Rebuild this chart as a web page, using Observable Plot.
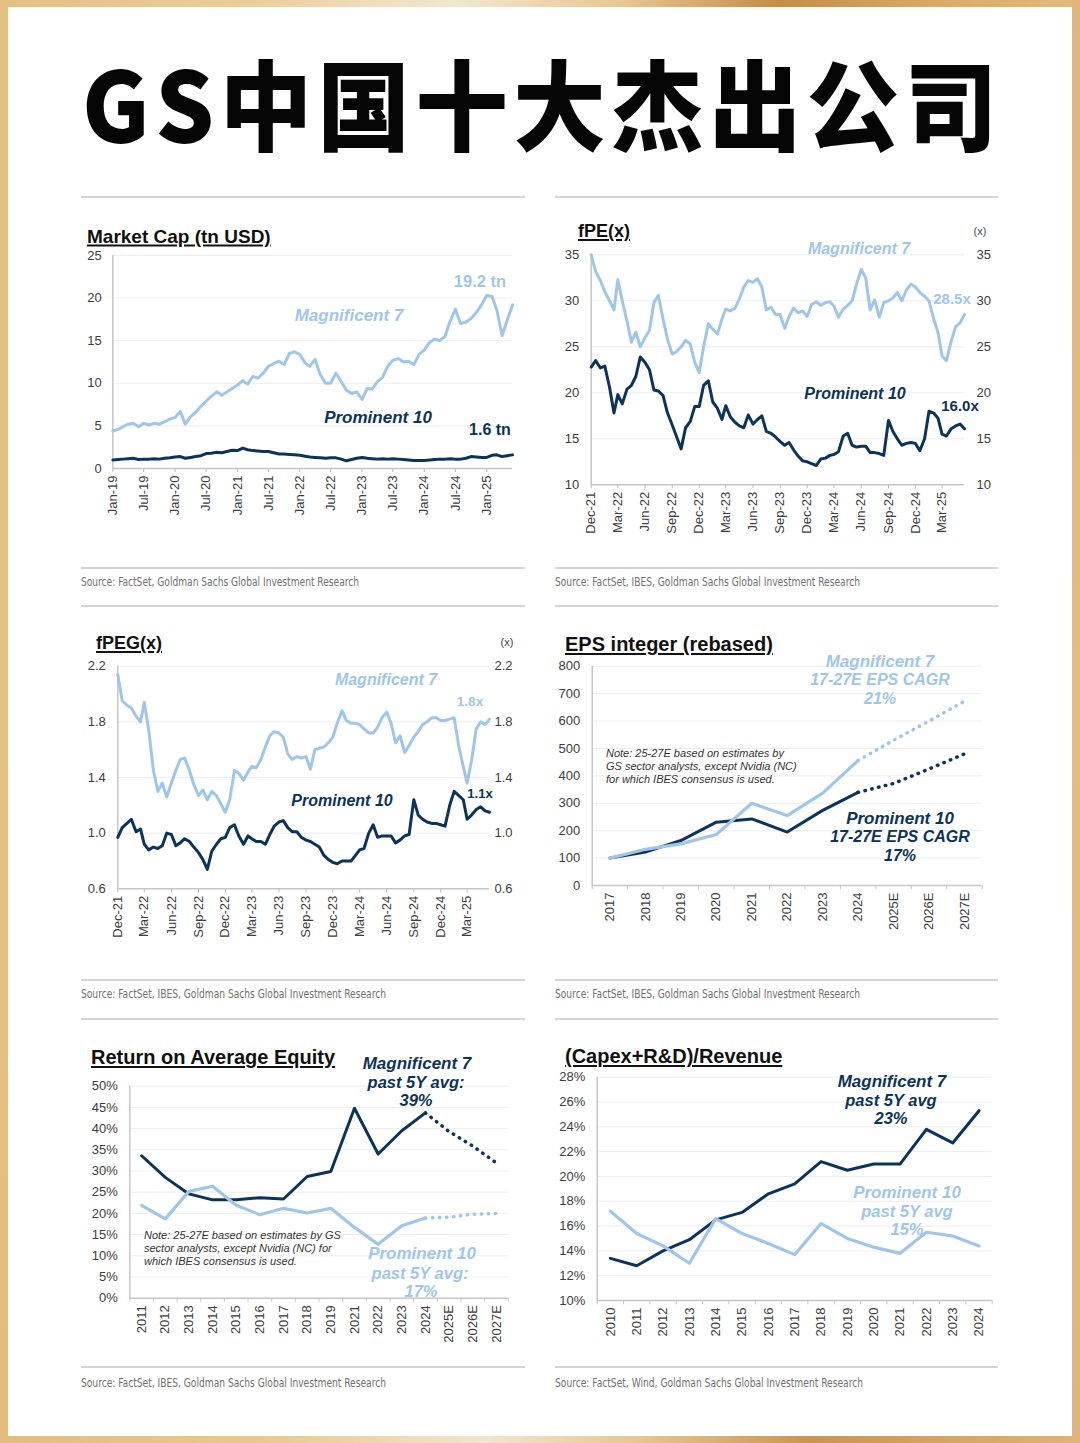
<!DOCTYPE html>
<html lang="zh">
<head>
<meta charset="utf-8">
<title>GS中国十大杰出公司</title>
<script src="https://cdn.jsdelivr.net/npm/d3@7"></script>
<script src="https://cdn.jsdelivr.net/npm/@observablehq/plot@0.6"></script>
<style>
html,body{margin:0;padding:0;background:#fff;}
#page{position:relative;width:1080px;height:1443px;overflow:hidden;background:#fff;font-family:"Liberation Sans",Arial,Helvetica,sans-serif;}
.bd{position:absolute;}
.t{position:absolute;white-space:nowrap;line-height:1;}
.c{transform:translate(-50%,-50%);}
.l{transform:translateY(-50%);}
.ttl{font-weight:bold;color:#111;text-decoration:underline;text-decoration-thickness:2px;text-underline-offset:2px;}
.note{font-style:italic;font-size:11px;color:#333;}
.src{font-family:"Liberation Sans Narrow","Arial Narrow","DejaVu Sans Condensed",sans-serif;font-size:12px;color:#6f6f6f;transform-origin:0 50%;}
.sep{position:absolute;height:2px;background:#d5d5d5;}
.plotbox{position:absolute;}
.plotbox svg{overflow:visible;}
.plotbox [aria-label$="tick"] path{stroke:#b8b8b8;}
.plotbox .tick line{stroke:#b8b8b8;}
#title{position:absolute;left:82px;top:52px;font-family:"Noto Sans CJK SC","Noto Sans CJK JP",sans-serif;font-weight:900;font-size:100px;line-height:1;letter-spacing:6px;color:#050505;white-space:nowrap;transform-origin:0 0;}
</style>
</head>
<body>
<div id="page">
  <div class="bd" style="left:0;top:0;width:1080px;height:7px;background:linear-gradient(90deg,#e3bf82 0%,#eacd96 22%,#f3e7d2 42%,#e7c68f 58%,#c48c47 72%,#d9a964 86%,#e4bb7c 100%);"></div>
  <div class="bd" style="left:0;bottom:0;width:1080px;height:7px;background:linear-gradient(90deg,#e3bd7e 0%,#e9c98f 25%,#f2e5cf 45%,#e6c48c 60%,#c99550 75%,#e0b475 100%);"></div>
  <div class="bd" style="left:0;top:0;width:8px;height:1443px;background:linear-gradient(180deg,#e4bf82,#e6c184 50%,#e4bc7d);"></div>
  <div class="bd" style="right:0;top:0;width:8px;height:1443px;background:linear-gradient(180deg,#e2b676,#e5bd80 50%,#e1b577);"></div>
  <div id="title">GS中国十大杰出公司</div>
</div>
<script>
// ---------------- DATA ----------------
// Panel 1: Market Cap (tn USD), monthly Jan-19 .. Jun-25
const mcStart = new Date(Date.UTC(2019, 0, 1));
const mcDates = d3.utcMonth.range(mcStart, new Date(Date.UTC(2025, 6, 1)));
const mcMag7 = [
  4.4,4.6,4.9,5.2,5.3,4.9,5.3,5.1,5.3,5.2,5.5,5.8,
  6.0,6.7,5.2,6.1,6.6,7.3,7.9,8.5,9.0,8.6,9.0,9.4,
  9.8,10.3,9.9,10.8,10.6,11.2,12.0,12.3,12.6,12.2,13.5,13.7,
  13.4,12.4,12.0,12.8,11.0,10.0,10.0,11.2,10.2,9.2,8.8,9.0,
  8.1,9.4,9.3,10.2,10.7,12.0,12.7,12.9,12.5,12.6,12.2,13.4,
  13.9,14.8,15.2,15.0,15.5,17.3,18.7,17.0,17.2,17.6,18.3,19.2,
  20.3,20.2,18.6,15.6,17.4,19.2];
const mcProm10 = [
  1.0,1.05,1.1,1.15,1.2,1.05,1.1,1.1,1.15,1.1,1.2,1.25,
  1.35,1.4,1.2,1.3,1.4,1.5,1.75,1.8,1.9,1.85,2.0,2.15,
  2.1,2.4,2.2,2.1,2.05,2.0,2.0,1.85,1.7,1.7,1.65,1.6,
  1.55,1.45,1.35,1.3,1.25,1.2,1.25,1.25,1.1,0.9,1.05,1.2,
  1.3,1.2,1.15,1.1,1.15,1.1,1.15,1.1,1.05,1.0,0.95,0.95,
  0.95,1.0,1.05,1.1,1.1,1.15,1.1,1.1,1.2,1.4,1.35,1.3,
  1.3,1.55,1.6,1.4,1.5,1.6];
const mcXTicks = d3.utcMonth.every(6).range(mcStart, new Date(Date.UTC(2025, 1, 1)));
const mcYTicks = [0, 5, 10, 15, 20, 25];

// Panels 2-3: fPE / fPEG, half-monthly Dec-21 .. mid May-25
const vDates = d3.utcMonth.range(new Date(Date.UTC(2021, 11, 1)), new Date(Date.UTC(2025, 5, 1)))
  .flatMap(d => [d, d3.utcDay.offset(d, 15)]);
const vXTicks = d3.utcMonth.range(new Date(Date.UTC(2021, 11, 1)), new Date(Date.UTC(2025, 3, 1)), 3);
const fpeMag7 = [
  35.0,33.2,32.2,31.0,30.0,29.0,32.3,30.0,27.8,25.5,
  26.6,25.0,26.0,26.8,29.8,30.6,28.0,25.8,24.2,24.5,
  25.0,25.7,25.3,23.3,22.2,25.0,27.5,26.9,26.4,28.0,
  29.1,28.9,29.2,30.2,31.5,32.2,32.0,32.4,31.5,29.0,
  29.3,28.5,28.5,27.0,28.3,29.2,28.7,28.9,28.3,29.6,
  29.9,29.5,29.8,29.9,29.4,28.2,29.1,29.5,30.0,31.8,
  33.4,32.5,29.0,30.1,28.2,29.8,30.0,30.3,30.9,30.0,
  31.2,31.8,31.5,30.9,30.5,30.0,28.0,26.5,24.0,23.5,
  25.6,27.2,27.6,28.5];
const fpeProm10 = [
  22.8,23.5,22.7,22.9,20.6,17.8,19.8,18.8,20.4,20.8,
  21.8,23.9,23.3,22.5,20.3,20.2,19.7,17.8,16.5,15.2,
  13.9,16.2,16.9,18.5,18.5,20.8,21.3,19.0,18.3,17.1,
  18.6,17.4,16.8,16.4,16.2,17.6,16.6,17.1,17.5,15.8,
  15.6,15.2,14.7,14.3,14.6,13.8,13.1,12.6,12.5,12.3,
  12.1,12.8,12.9,13.2,13.3,13.6,15.3,15.6,14.3,14.1,
  14.2,14.2,13.5,13.5,13.4,13.2,17.0,15.8,15.0,14.3,
  14.5,14.6,14.5,13.7,15.0,18.0,17.8,17.2,15.5,15.3,
  16.1,16.4,16.6,16.1];
const fpeYTicks = [10, 15, 20, 25, 30, 35];
const fpegMag7 = [
  2.14,1.95,1.92,1.90,1.84,1.80,1.94,1.74,1.45,1.30,
  1.36,1.26,1.36,1.45,1.53,1.54,1.45,1.35,1.27,1.31,
  1.24,1.30,1.27,1.21,1.15,1.24,1.45,1.43,1.38,1.44,
  1.48,1.47,1.53,1.62,1.70,1.73,1.72,1.69,1.57,1.53,
  1.55,1.54,1.55,1.46,1.60,1.61,1.62,1.65,1.69,1.79,
  1.88,1.81,1.79,1.79,1.78,1.75,1.72,1.72,1.76,1.83,
  1.87,1.79,1.65,1.70,1.58,1.63,1.69,1.73,1.78,1.80,
  1.83,1.83,1.81,1.81,1.82,1.83,1.62,1.48,1.36,1.52,
  1.75,1.80,1.78,1.82];
const fpegProm10 = [
  0.97,1.04,1.07,1.10,1.01,1.03,0.92,0.88,0.90,0.89,
  0.91,1.00,0.99,0.91,0.93,0.96,0.94,0.90,0.86,0.81,
  0.74,0.87,0.92,0.96,0.97,1.04,1.06,0.98,0.92,0.98,
  0.96,0.94,0.94,0.92,0.99,1.05,1.08,1.09,1.04,1.01,
  1.01,0.97,0.95,0.94,0.92,0.90,0.84,0.81,0.79,0.78,
  0.80,0.80,0.80,0.84,0.88,0.89,1.00,1.06,0.97,0.98,
  0.98,0.98,0.93,0.95,0.98,0.99,1.24,1.13,1.10,1.08,
  1.07,1.07,1.06,1.05,1.20,1.30,1.27,1.24,1.10,1.13,
  1.17,1.19,1.16,1.15];
const fpegYTicks = [0.6, 1.0, 1.4, 1.8, 2.2];

// Panel 4: EPS integer (rebased)
const epsYears = ["2017","2018","2019","2020","2021","2022","2023","2024","2025E","2026E","2027E"];
const epsMag7   = [100, 132, 152, 186, 300, 255, 337, 456, 530, 600, 672];
const epsProm10 = [100, 122, 164, 231, 243, 195, 274, 340, 372, 425, 480];
const epsYTicks = [0,100,200,300,400,500,600,700,800];
const epsLastActual = 7;

// Panel 5: Return on Average Equity (%)
const roaeYears = ["2011","2012","2013","2014","2015","2016","2017","2018","2019","2021","2022","2023","2024","2025E","2026E","2027E"];
const roaeMag7   = [33.6,28.5,24.6,23.2,23.2,23.7,23.4,28.7,29.9,44.8,34.0,39.5,43.7,39.3,35.9,31.9];
const roaeProm10 = [21.9,18.7,25.2,26.4,21.9,19.7,21.2,20.1,21.2,16.7,12.7,17.1,18.9,19.1,19.8,20.0];
const roaeYTicks = [0,5,10,15,20,25,30,35,40,45,50];
const roaeLastActual = 12;

// Panel 6: (Capex+R&D)/Revenue (%)
const capexYears = ["2010","2011","2012","2013","2014","2015","2016","2017","2018","2019","2020","2021","2022","2023","2024"];
const capexMag7   = [13.4,12.8,14.0,14.9,16.5,17.1,18.6,19.4,21.2,20.5,21.0,21.0,23.8,22.7,25.3];
const capexProm10 = [17.2,15.4,14.4,13.0,16.6,15.4,14.6,13.7,16.2,15.0,14.3,13.8,15.5,15.2,14.4];
const capexYTicks = [10,12,14,16,18,20,22,24,26,28];

// ---------------- STYLE ----------------
const LIGHT = "#9fc6e9", DARK = "#0c3358";
const AXIS = "#c6c6c6", GRID = "#ededed";
const baseStyle = {fontFamily: '"Liberation Sans", Arial, sans-serif', fontSize: "13px", color: "#3c3c3c", background: "transparent", overflow: "visible"};
const fmtMon = d3.utcFormat("%b-%y");
const page = document.getElementById("page");

function place(svg, left, top) {
  const d = document.createElement("div");
  d.className = "plotbox";
  d.style.left = left + "px"; d.style.top = top + "px";
  d.append(svg); page.append(d);
}
function txt(s, x, y, cls, style) {
  const e = document.createElement("div");
  e.className = "t " + cls;
  e.textContent = s;
  e.style.left = x + "px"; e.style.top = y + "px";
  Object.assign(e.style, style || {});
  page.append(e);
  return e;
}
const dotted = {strokeWidth: 3.5, strokeDasharray: "0.5,6.5", strokeLinecap: "round"};

// ---------------- PANEL 1 ----------------
const mcRows = mcDates.map((date, i) => ({date, mag7: mcMag7[i], prom10: mcProm10[i]}));
place(Plot.plot({
  width: 450, height: 290, marginLeft: 32.3, marginRight: 18, marginTop: 10, marginBottom: 67,
  style: baseStyle,
  x: {type: "utc", domain: [mcDates[0], mcDates[mcDates.length - 1]], ticks: mcXTicks, tickFormat: fmtMon, tickRotate: -90, tickSize: 4, tickPadding: 3, label: null},
  y: {domain: [0, 25], ticks: mcYTicks, tickSize: 0, tickPadding: 11, label: null},
  marks: [
    Plot.ruleY(mcYTicks.filter(v => v > 0), {stroke: GRID}),
    Plot.ruleY([0], {stroke: AXIS, strokeWidth: 1.5}),
    Plot.ruleX([mcDates[0]], {stroke: AXIS, strokeWidth: 1.5}),
    Plot.line(mcRows, {x: "date", y: "mag7", stroke: LIGHT, strokeWidth: 3, strokeLinejoin: "round"}),
    Plot.line(mcRows, {x: "date", y: "prom10", stroke: DARK, strokeWidth: 3, strokeLinejoin: "round"})
  ]
}), 80, 245);

// ---------------- PANEL 2 ----------------
const fpeRows = vDates.map((date, i) => ({date, mag7: fpeMag7[i], prom10: fpeProm10[i]}));
const vEnd = vDates[vDates.length - 1];
place(Plot.plot({
  width: 450, height: 305, marginLeft: 35.7, marginRight: 41, marginTop: 14.3, marginBottom: 60.7,
  style: baseStyle,
  x: {type: "utc", domain: [vDates[0], vEnd], ticks: vXTicks, tickFormat: fmtMon, tickRotate: -90, tickSize: 4, tickPadding: 3, label: null},
  y: {domain: [10, 35], ticks: fpeYTicks, tickSize: 0, tickPadding: 12, label: null},
  marks: [
    Plot.ruleY(fpeYTicks.filter(v => v > 10), {stroke: GRID}),
    Plot.ruleY([10], {stroke: AXIS, strokeWidth: 1.5}),
    Plot.ruleX([vDates[0]], {stroke: AXIS, strokeWidth: 1.5}),
    Plot.text(fpeYTicks, {x: () => vEnd, y: d => d, text: d => String(d), dx: 12, textAnchor: "start", fill: "#3c3c3c", fontSize: 13}),
    Plot.line(fpeRows, {x: "date", y: "mag7", stroke: LIGHT, strokeWidth: 3, strokeLinejoin: "round"}),
    Plot.line(fpeRows, {x: "date", y: "prom10", stroke: DARK, strokeWidth: 3, strokeLinejoin: "round"})
  ]
}), 555, 240);

// ---------------- PANEL 3 ----------------
const fpegRows = vDates.map((date, i) => ({date, mag7: fpegMag7[i], prom10: fpegProm10[i]}));
const f1 = d3.format(".1f");
place(Plot.plot({
  width: 450, height: 300, marginLeft: 37.3, marginRight: 41, marginTop: 15.7, marginBottom: 61.7,
  style: baseStyle,
  x: {type: "utc", domain: [vDates[0], vEnd], ticks: vXTicks, tickFormat: fmtMon, tickRotate: -90, tickSize: 4, tickPadding: 3, label: null},
  y: {domain: [0.6, 2.2], ticks: fpegYTicks, tickFormat: f1, tickSize: 0, tickPadding: 12, label: null},
  marks: [
    Plot.ruleY(fpegYTicks.filter(v => v > 0.6), {stroke: GRID}),
    Plot.ruleY([0.6], {stroke: AXIS, strokeWidth: 1.5}),
    Plot.ruleX([vDates[0]], {stroke: AXIS, strokeWidth: 1.5}),
    Plot.text(fpegYTicks, {x: () => vEnd, y: d => d, text: d => f1(d), dx: 5, textAnchor: "start", fill: "#3c3c3c", fontSize: 13}),
    Plot.line(fpegRows, {x: "date", y: "mag7", stroke: LIGHT, strokeWidth: 3, strokeLinejoin: "round"}),
    Plot.line(fpegRows, {x: "date", y: "prom10", stroke: DARK, strokeWidth: 3, strokeLinejoin: "round"})
  ]
}), 80, 650);

// ---------------- category panels helper ----------------
function catPanel({cats, a, b, aColor, bColor, lastActual, yDomain, yTicks, yFmt, w, h, ml, mr, mt, mb, tickDrop, left, top}) {
  const step = (w - ml - mr) / cats.length;
  const rows = cats.map((c, i) => ({c, a: a[i], b: b[i], i}));
  const act = rows.filter(r => lastActual == null || r.i <= lastActual);
  const est = rows.filter(r => lastActual != null && r.i >= lastActual);
  const y0 = yDomain[0];
  const marks = [
    Plot.ruleY(yTicks.filter(v => v > y0), {stroke: GRID}),
    Plot.ruleY([y0], {stroke: AXIS, strokeWidth: 1.5}),
    Plot.ruleX([cats[0]], {x: d => d, y1: y0, y2: yDomain[1], dx: -step / 2, stroke: AXIS, strokeWidth: 1.5}),
    Plot.ruleX(cats, {x: d => d, y1: y0, y2: y0 - tickDrop, dx: -step / 2, stroke: AXIS}),
    Plot.ruleX([cats[cats.length - 1]], {x: d => d, y1: y0, y2: y0 - tickDrop, dx: step / 2, stroke: AXIS}),
    Plot.line(act, {x: "c", y: "b", stroke: bColor, strokeWidth: 3, strokeLinejoin: "round"}),
    Plot.line(act, {x: "c", y: "a", stroke: aColor, strokeWidth: 3.2, strokeLinejoin: "round"})
  ];
  if (est.length) {
    marks.push(Plot.line(est, {x: "c", y: "b", stroke: bColor, ...dotted}));
    marks.push(Plot.line(est, {x: "c", y: "a", stroke: aColor, ...dotted}));
  }
  place(Plot.plot({
    width: w, height: h, marginLeft: ml, marginRight: mr, marginTop: mt, marginBottom: mb,
    style: baseStyle,
    x: {type: "point", domain: cats, padding: 0.5, round: false, tickSize: 0, tickPadding: 7, tickRotate: -90, label: null},
    y: {domain: yDomain, ticks: yTicks, tickFormat: yFmt, tickSize: 0, tickPadding: 12, label: null},
    marks
  }), left, top);
}

// ---------------- PANEL 4 ----------------
catPanel({cats: epsYears, a: epsMag7, b: epsProm10, aColor: LIGHT, bColor: DARK, lastActual: epsLastActual,
  yDomain: [0, 800], yTicks: epsYTicks, yFmt: d => String(d),
  w: 450, h: 300, ml: 36.7, mr: 23.3, mt: 10.7, mb: 70, tickDrop: 16, left: 555, top: 655});

// ---------------- PANEL 5 ----------------
catPanel({cats: roaeYears, a: roaeProm10, b: roaeMag7, aColor: LIGHT, bColor: DARK, lastActual: roaeLastActual,
  yDomain: [0, 50], yTicks: roaeYTicks, yFmt: d => d + "%",
  w: 450, h: 300, ml: 49.3, mr: 22.3, mt: 15.7, mb: 72.3, tickDrop: 1, left: 80, top: 1070});

// ---------------- PANEL 6 ----------------
catPanel({cats: capexYears, a: capexProm10, b: capexMag7, aColor: LIGHT, bColor: DARK, lastActual: null,
  yDomain: [10, 28], yTicks: capexYTicks, yFmt: d => d + "%",
  w: 450, h: 300, ml: 41.7, mr: 13.3, mt: 10.7, mb: 66, tickDrop: 0.35, left: 555, top: 1066});

// ---------------- separators & sources ----------------
[197, 568, 606, 980, 1019, 1367].forEach(y => {
  [[81, 444], [555, 443]].forEach(([x, w]) => {
    const s = document.createElement("div");
    s.className = "sep"; s.style.left = x + "px"; s.style.top = (y - 1) + "px"; s.style.width = w + "px";
    page.append(s);
  });
});
const sources = [
  ["Source: FactSet, Goldman Sachs Global Investment Research", 81, 582, 278],
  ["Source: FactSet, IBES, Goldman Sachs Global Investment Research", 555, 582, 305],
  ["Source: FactSet, IBES, Goldman Sachs Global Investment Research", 81, 994, 305],
  ["Source: FactSet, IBES, Goldman Sachs Global Investment Research", 555, 994, 305],
  ["Source: FactSet, IBES, Goldman Sachs Global Investment Research", 81, 1383, 305],
  ["Source: FactSet, Wind, Goldman Sachs Global Investment Research", 555, 1383, 308]
];
const srcEls = sources.map(([s, x, y, w]) => [txt(s, x, y, "src l"), w]);

// ---------------- titles ----------------
txt("Market Cap (tn USD)", 87, 236, "ttl l", {fontSize: "19px"});
txt("fPE(x)", 578, 231, "ttl l", {fontSize: "18px"});
txt("fPEG(x)", 96, 643, "ttl l", {fontSize: "18px"});
txt("EPS integer (rebased)", 565, 644, "ttl l", {fontSize: "20px"});
txt("Return on Average Equity", 91, 1057, "ttl l", {fontSize: "20px"});
txt("(Capex+R&D)/Revenue", 565, 1056, "ttl l", {fontSize: "20px"});
txt("(x)", 980, 231, "c", {fontSize: "11px", color: "#444"});
txt("(x)", 507, 642, "c", {fontSize: "11px", color: "#444"});

// ---------------- annotations ----------------
const ann = [
  ["19.2 tn", 480, 281, 16.5, LIGHT, false],
  ["Magnificent 7", 349, 315, 17, LIGHT, true],
  ["Prominent 10", 378, 417, 17, DARK, true],
  ["1.6 tn", 490, 430, 16, DARK, false],
  ["Magnificent 7", 859, 249, 16, LIGHT, true],
  ["28.5x", 952, 298, 15, LIGHT, false],
  ["Prominent 10", 855, 394, 16, DARK, true],
  ["16.0x", 960, 405, 15, DARK, false],
  ["Magnificent 7", 386, 680, 16, LIGHT, true],
  ["1.8x", 470, 702, 13.5, LIGHT, false],
  ["Prominent 10", 342, 801, 16, DARK, true],
  ["1.1x", 480, 793, 13, DARK, false],
  ["Magnificent 7", 880, 661, 17, LIGHT, true],
  ["17-27E EPS CAGR", 880, 680, 16, LIGHT, true],
  ["21%", 880, 699, 16, LIGHT, true],
  ["Prominent 10", 900, 818, 17, DARK, true],
  ["17-27E EPS CAGR", 900, 837, 16, DARK, true],
  ["17%", 900, 856, 16, DARK, true],
  ["Magnificent 7", 417, 1063, 17, DARK, true],
  ["past 5Y avg:", 416, 1082, 16.5, DARK, true],
  ["39%", 416, 1100, 16.5, DARK, true],
  ["Prominent 10", 422, 1253, 17, LIGHT, true],
  ["past 5Y avg:", 420, 1273, 16.5, LIGHT, true],
  ["17%", 421, 1291, 16.5, LIGHT, true],
  ["Magnificent 7", 892, 1081, 17, DARK, true],
  ["past 5Y avg", 891, 1100, 16.5, DARK, true],
  ["23%", 891, 1118, 16.5, DARK, true],
  ["Prominent 10", 907, 1192, 17, LIGHT, true],
  ["past 5Y avg", 907, 1211, 16.5, LIGHT, true],
  ["15%", 907, 1229, 16.5, LIGHT, true]
];
ann.forEach(([s, x, y, fs, col, it]) => txt(s, x, y, "c", {fontSize: fs + "px", color: col, fontWeight: "bold", fontStyle: it ? "italic" : "normal"}));

const note1 = ["Note: 25-27E based on estimates by", "GS sector analysts, except Nvidia (NC)", "for which IBES consensus is used."];
note1.forEach((s, i) => txt(s, 606, 753 + 13 * i, "note l"));
const note2 = ["Note: 25-27E based on estimates by GS", "sector analysts, except Nvidia (NC) for", "which IBES consensus is used."];
note2.forEach((s, i) => txt(s, 144, 1235 + 13 * i, "note l"));

// ---------------- fit widths ----------------
function fit() {
  srcEls.forEach(([e, w]) => {
    e.style.transform = "translateY(-50%)";
    const cw = e.getBoundingClientRect().width;
    e.style.transform = `translateY(-50%) scaleX(${w / cw})`;
  });
  const t = document.getElementById("title");
  t.style.transform = "none";
  const tw = t.getBoundingClientRect().width - 6;
  t.style.transform = `scale(${915 / tw}, 0.98)`;
}
fit();
if (document.fonts && document.fonts.ready) document.fonts.ready.then(fit);
</script>
</body>
</html>
